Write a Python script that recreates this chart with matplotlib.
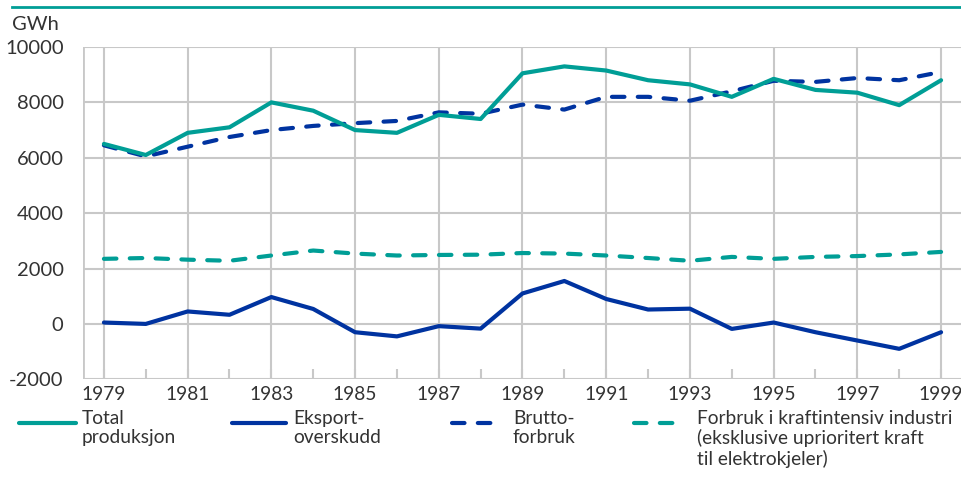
import matplotlib
matplotlib.use("Agg")
import matplotlib.pyplot as plt
from matplotlib.lines import Line2D

years = list(range(1979, 2000))
total_produksjon = [6500, 6100, 6900, 7100, 8000, 7700, 7000, 6900, 7550, 7400,
                    9050, 9300, 9150, 8800, 8650, 8200, 8850, 8450, 8350, 7900, 8800]
bruttoforbruk = [6450, 6050, 6400, 6750, 7000, 7150, 7250, 7330, 7640, 7590,
                 7920, 7740, 8200, 8200, 8060, 8400, 8780, 8740, 8880, 8800, 9100]
eksportoverskudd = [50, 0, 450, 330, 970, 540, -300, -450, -80, -170,
                    1100, 1550, 900, 520, 550, -180, 50, -300, -600, -900, -300]
kraftintensiv = [2350, 2380, 2320, 2280, 2470, 2650, 2540, 2470, 2490, 2500,
                 2560, 2540, 2470, 2380, 2280, 2420, 2350, 2420, 2450, 2510, 2600]
xtick_labels = [str(y) for y in range(1979, 2000, 2)]
yticks = [-2000, 0, 2000, 4000, 6000, 8000, 10000]

TEAL = "#009E96"
BLUE = "#0033A0"
GRID = "#C8C8C8"
TXT = "#333333"

plt.rcParams['font.family'] = ['Lato', 'DejaVu Sans']

fig = plt.figure(figsize=(9.62, 4.82), dpi=100)
W, H = 962, 482
ax = fig.add_axes([83 / W, 1 - 379.3 / H, (962 - 83) / W, (379.3 - 47) / H])

ax.set_xlim(1978.5, 1999.5)
ax.set_ylim(-2000, 10000)

lw = 3.0
DASH = (3.0, 3.2)
ax.plot(years, eksportoverskudd, color=BLUE, lw=lw, solid_capstyle='round', solid_joinstyle='round', zorder=3)
ax.plot(years, kraftintensiv, color=TEAL, lw=lw, dashes=DASH, dash_capstyle='round', zorder=3)
ax.plot(years, bruttoforbruk, color=BLUE, lw=lw, dashes=DASH, dash_capstyle='round', zorder=3)
ax.plot(years, total_produksjon, color=TEAL, lw=lw, solid_capstyle='round', solid_joinstyle='round', zorder=4)

# grid
for yv in yticks:
    ax.axhline(yv, color=GRID, lw=1.5, zorder=1)
for xv in range(1979, 2000, 2):
    ax.axvline(xv, color=GRID, lw=1.5, zorder=1)

for s in ax.spines.values():
    s.set_visible(False)
ax.axvline(1978.5, color=GRID, lw=2.0, zorder=1)

fs = 14.5
xfs = 13.8
ax.set_yticks(yticks)
ax.set_yticklabels([str(v) for v in yticks])
ax.set_xticks(years)
labels = [str(y) if (y - 1979) % 2 == 0 else "" for y in years]
last_label = labels[-1]
labels[-1] = ""
ax.set_xticklabels(labels)
ax.tick_params(axis='x', direction='in', length=7, width=1.5, color=GRID,
               labelsize=xfs, labelcolor=TXT, pad=5)
ax.tick_params(axis='y', length=0, labelsize=fs, labelcolor=TXT, pad=14)
# last year label, kept inside the figure edge
ax.annotate(last_label, xy=(years[-1], 0), xycoords=ax.get_xaxis_transform(),
            xytext=(0, -5), textcoords='offset points', ha='center', va='top',
            fontsize=xfs, color=TXT, annotation_clip=False)

# top rule and unit
fig.add_artist(Line2D([12 / W, 1], [1 - 7 / H, 1 - 7 / H], color=TEAL, lw=2.0))
fig.text(12 / W, 1 - 25 / H, "GWh", fontsize=fs, color=TXT, va='center', ha='left')

# legend
lfs = 13.8
ly = 1 - 423 / H
def leg_line(x0, x1, color, dashed):
    kw = dict(color=color, lw=lw, solid_capstyle='round', dash_capstyle='round')
    if dashed:
        kw['dashes'] = DASH
    fig.add_artist(Line2D([x0 / W, x1 / W], [ly, ly], **kw))

ty = 1 - 410 / H
leg_line(19, 76, TEAL, False)
fig.text(82 / W, ty, "Total\nproduksjon", fontsize=lfs, color=TXT, va='top', ha='left', linespacing=1.15)
leg_line(232, 286, BLUE, False)
fig.text(293 / W, ty, "Eksport-\noverskudd", fontsize=lfs, color=TXT, va='top', ha='left', linespacing=1.15)
leg_line(452, 496, BLUE, True)
fig.text(513 / W, ty, "Brutto-\nforbruk", fontsize=lfs, color=TXT, va='top', ha='left', linespacing=1.15)
leg_line(634, 684, TEAL, True)
fig.text(697 / W, ty, "Forbruk i kraftintensiv industri\n(eksklusive uprioritert kraft\ntil elektrokjeler)",
         fontsize=lfs, color=TXT, va='top', ha='left', linespacing=1.15)

fig.savefig("out.png", dpi=100)
